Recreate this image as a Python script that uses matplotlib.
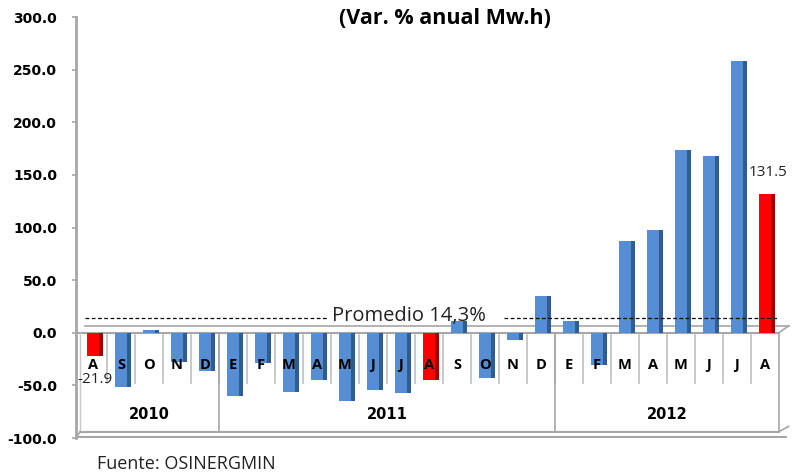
import matplotlib
matplotlib.use("Agg")
import matplotlib.pyplot as plt
import numpy as np

months = ['A','S','O','N','D','E','F','M','A','M','J','J','A','S','O','N','D','E','F','M','A','M','J','J','A']
values = [-21.9, -52, 3, -27.5, -36, -60, -28.5, -56, -44.7, -64.6, -54, -57, -44.7,
          11.4, -42.8, -6.7, 35, 11.4, -31, 87, 98, 174, 168, 258, 131.5]
highlight = [0, 12, 24]
years = ['2010', '2011', '2012']
year_spans = [(0, 4), (5, 16), (17, 24)]
promedio = 14.3
yticks = [-100, -50, 0, 50, 100, 150, 200, 250, 300]

fig = plt.figure(figsize=(7.92, 4.75), dpi=100)
ax = fig.add_axes([76/792, 37/475, (790-76)/792, (438-17)/475])
ax.set_ylim(-100, 300)
ax.set_xlim(-0.607, 24.9)

x = np.arange(len(values))
front_cols = ['#FF0000' if i in highlight else '#558ED5' for i in x]
side_cols = ['#A00000' if i in highlight else '#2E5C94' for i in x]

grey = '#A6A6A6'
# table lines (category axis)
ax.plot([-0.607, 24.5], [0, 0], color=grey, lw=1.5, zorder=1)
ax.plot([-0.3, 24.85], [6.5, 6.5], color=grey, lw=1.2, zorder=1)
ax.plot([24.5, 24.85], [0, 6.5], color=grey, lw=1.2, zorder=1)
for i in range(len(values) - 1):
    ax.plot([i + 0.5, i + 0.5], [-2, -47.5], color='#BFBFBF', lw=1.2, zorder=1)
for s in [4.5, 16.5]:
    ax.plot([s, s], [-2, -94], color=grey, lw=1.2, zorder=1)
ax.plot([24.5, 24.5], [0, -94], color=grey, lw=1.2, zorder=1)
ax.plot([-0.45, -0.45], [0, -94], color='#C8C8C8', lw=1.0, zorder=1)
ax.plot([-0.45, 24.5], [-94, -94], color=grey, lw=1.5, zorder=1)
ax.plot([-0.607, 24.75], [-99.5, -99.5], color=grey, lw=1.5, zorder=1)
ax.plot([24.5, 24.85], [-94, -89], color=grey, lw=1.2, zorder=1)
ax.plot([-0.607, -0.45], [-99.5, -94], color=grey, lw=1.2, zorder=1)

# bars with 3D-like side
ax.bar(x, values, width=0.45, color=front_cols, zorder=3)
ax.bar(x + 0.29, values, width=0.14, color=side_cols, zorder=2)

# average line
ax.plot([-0.3, 8.4], [promedio, promedio], color='black', lw=0.9, ls=(0, (3, 2)), zorder=4)
ax.plot([14.7, 24.5], [promedio, promedio], color='black', lw=0.9, ls=(0, (3, 2)), zorder=4)
ax.text(11.3, promedio + 2, 'Promedio 14,3%', ha='center', va='center',
        fontsize=14.5, family='Open Sans', color='#222222', zorder=5)

# month and year labels
for i, m in enumerate(months):
    ax.text(i, -31, m, ha='center', va='center', fontsize=10.5, fontweight='bold',
            family='Open Sans', color='black', zorder=5)
for (a, b), yl in zip(year_spans, years):
    ax.text((a + b) / 2, -78, yl, ha='center', va='center', fontsize=10.5,
            fontweight='bold', family='DejaVu Sans', color='black', zorder=5)

# data labels
ax.text(0.07, -44.5, '-21.9', ha='center', va='center', fontsize=11, family='Open Sans',
        color='#222222', zorder=5)
ax.text(24.1, 152, '131.5', ha='center', va='center', fontsize=11, family='Open Sans',
        color='#222222', zorder=5)

# axes styling
for sp in ['top', 'right', 'bottom']:
    ax.spines[sp].set_visible(False)
ax.spines['left'].set_color(grey)
ax.spines['left'].set_linewidth(2)
ax.set_xticks([])
ax.set_yticks(yticks)
ax.set_yticklabels([f'{t:.1f}' for t in yticks], fontsize=10, fontweight='bold', family='DejaVu Sans')
ax.tick_params(axis='y', length=3, width=1.2, color=grey, pad=10.5)
ax.patch.set_alpha(0)

fig.text(445/792, 1 - 18/475, '(Var. % anual Mw.h)', ha='center', va='center',
         fontsize=15.5, fontweight='bold', family='Open Sans')
fig.text(97/792, 1 - 464/475, 'Fuente: OSINERGMIN', ha='left', va='center',
         fontsize=13, family='Open Sans', color='#222222')

fig.savefig('out.png', dpi=100)
